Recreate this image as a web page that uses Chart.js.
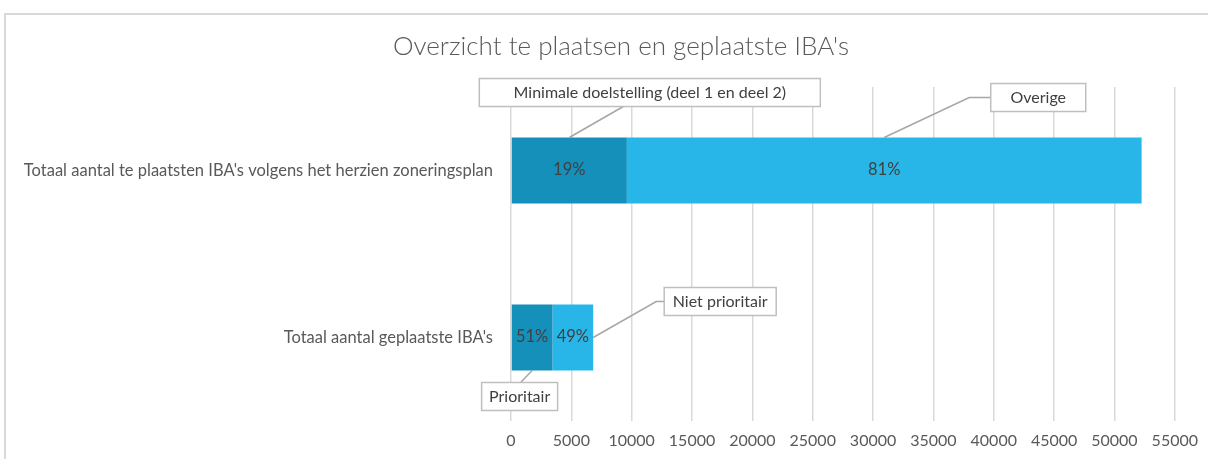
<!DOCTYPE html>
<html>
<head>
<meta charset="utf-8">
<script src="https://cdn.jsdelivr.net/npm/chart.js@4/dist/chart.umd.min.js"></script>
<style>
  html, body { margin: 0; padding: 0; background: #fff; overflow: hidden; }
  #frame { position: absolute; left: 4px; top: 13px; width: 1230px; height: 480px; border: 2px solid #d9d9d9; box-sizing: border-box; }
  #wrap { position: absolute; left: 0; top: 0; width: 1208px; height: 459px; }
</style>
</head>
<body>
<div id="frame"></div>
<div id="wrap"><canvas id="chart"></canvas></div>
<script>
// data
const categories = [
  "Totaal aantal te plaatsten IBA's volgens het herzien zoneringsplan",
  "Totaal aantal geplaatste IBA's",
];
const seriesNames = ["Doelstelling / Prioritair", "Overige / Niet prioritair"];
const darkValues = [9600, 3440];
const lightValues = [42650, 3370];
const darkPct = ["19%", "51%"];
const lightPct = ["81%", "49%"];
const xTicks = [0, 5000, 10000, 15000, 20000, 25000, 30000, 35000, 40000, 45000, 50000, 55000];

const FONT = "'Lato', 'Open Sans', sans-serif";
const TEXT = "#595959";
const LABEL = "#404040";

Chart.defaults.font.family = FONT;
Chart.defaults.color = TEXT;

// callout boxes tied to a bar segment (ds, idx), offsets from the anchor point
const CALLOUTS = [
  { text: "Minimale doelstelling (deel 1 en deel 2)", ds: 0, idx: 0, anchor: "top", elbow: [54, -31], box: [80.5, -45], w: 341 },
  { text: "Overige", ds: 1, idx: 0, anchor: "top", elbow: [85, -40], box: [154, -40], w: 95 },
  { text: "Niet prioritair", ds: 1, idx: 1, anchor: "right", elbow: [63, -36], box: [127, -36], w: 112 },
  { text: "Prioritair", ds: 0, idx: 1, anchor: "bottom", elbow: [-11.5, 12], box: [-12.5, 26], w: 76 },
];

// the original frame runs off the right edge, so its title sits right of centre
const shiftTitle = {
  id: "shiftTitle",
  afterLayout(chart) {
    if (chart.titleBlock) chart.titleBlock.left += 65;
  },
};

const pctLabels = {
  id: "pctLabels",
  afterDatasetsDraw(chart) {
    const { ctx } = chart;
    const texts = [darkPct, lightPct];
    ctx.save();
    ctx.font = "16.5px " + FONT;
    ctx.fillStyle = LABEL;
    ctx.textAlign = "center";
    ctx.textBaseline = "middle";
    chart.data.datasets.forEach((d, di) => {
      chart.getDatasetMeta(di).data.forEach((el, i) => {
        const cx = (el.x + el.base) / 2;
        ctx.fillText(texts[di][i], cx, el.y - 1);
      });
    });
    ctx.restore();
  },
};

const callouts = {
  id: "callouts",
  afterDatasetsDraw(chart) {
    const { ctx } = chart;
    ctx.save();
    CALLOUTS.forEach((c) => {
      const el = chart.getDatasetMeta(c.ds).data[c.idx];
      const h = el.height;
      let ax, ay;
      if (c.anchor === "top") { ax = (el.x + el.base) / 2; ay = el.y - h / 2; }
      else if (c.anchor === "bottom") { ax = (el.x + el.base) / 2; ay = el.y + h / 2; }
      else { ax = el.x; ay = el.y; }
      const ex = ax + c.elbow[0], ey = ay + c.elbow[1];
      const bx = ax + c.box[0], by = ay + c.box[1];
      const bh = 28;
      const left = bx - c.w / 2;
      ctx.strokeStyle = "#a6a6a6";
      ctx.lineWidth = 1.5;
      ctx.beginPath();
      ctx.moveTo(ax, ay);
      ctx.lineTo(ex, ey);
      if (ey > by - bh / 2 && ey < by + bh / 2) ctx.lineTo(left, ey);
      ctx.stroke();
      ctx.fillStyle = "#fff";
      ctx.fillRect(left, by - bh / 2, c.w, bh);
      ctx.strokeStyle = "#bfbfbf";
      ctx.strokeRect(left, by - bh / 2, c.w, bh);
      ctx.fillStyle = LABEL;
      ctx.font = "16px " + FONT;
      ctx.textAlign = "center";
      ctx.textBaseline = "middle";
      ctx.fillText(c.text, bx, by);
    });
    ctx.restore();
  },
};

new Chart(document.getElementById("chart"), {
  type: "bar",
  data: {
    labels: categories,
    datasets: [
      { label: seriesNames[0], data: darkValues, backgroundColor: "#1590bb", borderWidth: 0 },
      { label: seriesNames[1], data: lightValues, backgroundColor: "#28b6e9", borderWidth: 0 },
    ],
  },
  options: {
    indexAxis: "y",
    responsive: true,
    maintainAspectRatio: false,
    animation: false,
    datasets: { bar: { barPercentage: 0.395, categoryPercentage: 1 } },
    layout: { padding: { top: 31, right: 31, left: 0, bottom: 0 } },
    plugins: {
      legend: { display: false },
      tooltip: { enabled: false },
      title: {
        display: true,
        text: "Overzicht te plaatsen en geplaatste IBA's",
        color: TEXT,
        font: { size: 26, weight: "300", family: FONT },
        padding: { top: 0, bottom: 24.8 },
      },
    },
    scales: {
      x: {
        stacked: true,
        min: 0,
        max: 55000,
        afterBuildTicks: (s) => { s.ticks = xTicks.map((v) => ({ value: v })); },
        afterFit: (s) => { s.height = 38; },
        grid: { color: "#d9d9d9", lineWidth: 1.5, drawTicks: false },
        border: { display: false },
        ticks: { padding: 10, color: TEXT, font: { size: 16 }, callback: (v) => v },
      },
      y: {
        stacked: true,
        afterFit: (s) => { s.width = 511; },
        grid: { display: false, drawTicks: false },
        border: { display: false },
        ticks: { padding: 18, color: TEXT, font: { size: 16.5 } },
      },
    },
  },
  plugins: [shiftTitle, pctLabels, callouts],
});
</script>
</body>
</html>
